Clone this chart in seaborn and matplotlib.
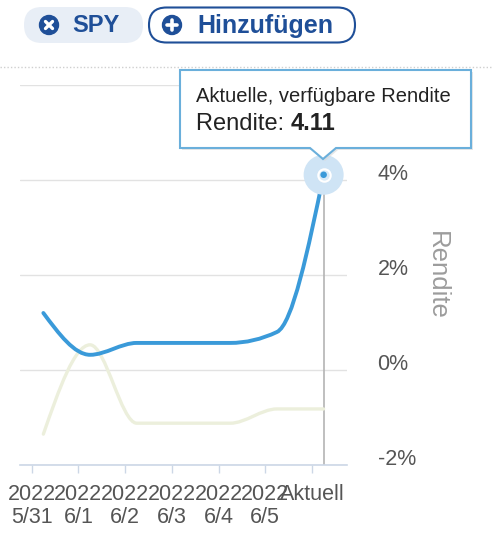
import numpy as np
import pandas as pd
import matplotlib
matplotlib.use("Agg")
import matplotlib.pyplot as plt
import seaborn as sns
from matplotlib.path import Path
from matplotlib.patches import PathPatch, FancyBboxPatch, Circle, Polygon

# Values
x_labels = ["2022\n5/31", "2022\n6/1", "2022\n6/2", "2022\n6/3", "2022\n6/4", "2022\n6/5", "Aktuell"]
spy_values = [1.2, 0.32, 0.57, 0.57, 0.57, 0.8, 4.11]
other_values = [-1.35, 0.53, -1.12, -1.12, -1.12, -0.82, -0.82]
y_ticks = [-2, 0, 2, 4, 6]
y_tick_labels = ["-2%", "0%", "2%", "4%", ""]  # top label sits under the tooltip
tooltip_title = "Aktuelle, verfügbare Rendite"
tooltip_label = "Rendite: "
chip_labels = ["SPY", "Hinzufügen"]

BLUE = "#3a9ad9"
BEIGE = "#ecefdc"
DARK_BLUE = "#1f4f98"
TEXT = "#555555"

sns.set_style("white")
plt.rcParams["font.family"] = ["Liberation Sans", "DejaVu Sans"]


def monotone_path(xs, ys):
    # monotone cubic (like d3 curveMonotoneX), as bezier segments
    xs = np.asarray(xs, float)
    ys = np.asarray(ys, float)
    n = len(xs)
    h = np.diff(xs)
    s = np.diff(ys) / h
    t = np.zeros(n)
    for i in range(1, n - 1):
        p = (s[i - 1] * h[i] + s[i] * h[i - 1]) / (h[i - 1] + h[i])
        t[i] = (np.sign(s[i - 1]) + np.sign(s[i])) * min(abs(s[i - 1]), abs(s[i]), 0.5 * abs(p))
    t[0] = (3 * s[0] - t[1]) / 2
    t[-1] = (3 * s[-1] - t[-2]) / 2
    verts = [(xs[0], ys[0])]
    codes = [Path.MOVETO]
    for i in range(n - 1):
        d = h[i] / 3
        verts += [(xs[i] + d, ys[i] + d * t[i]),
                  (xs[i + 1] - d, ys[i + 1] - d * t[i + 1]),
                  (xs[i + 1], ys[i + 1])]
        codes += [Path.CURVE4] * 3
    return Path(verts, codes)


W, H = 492, 538
fig = plt.figure(figsize=(W / 100, H / 100), dpi=100)
ax = fig.add_axes([20 / W, 1 - 465 / H, 327 / W, 380 / H])

idx = np.arange(len(x_labels))
df = pd.DataFrame({"pos": idx, "spy": spy_values, "other": other_values})

ax.add_patch(PathPatch(monotone_path(df["pos"], df["other"]), fill=False,
                       edgecolor=BEIGE, lw=2.4, capstyle="round", zorder=2))
ax.add_patch(PathPatch(monotone_path(df["pos"], df["spy"]), fill=False,
                       edgecolor=BLUE, lw=2.8, capstyle="round", zorder=3))

ax.axvline(idx[-1], color="#b4b4b4", lw=1.2, zorder=1.5)

# highlighted last point
last = df.iloc[[-1]]
sns.scatterplot(data=last, x="pos", y="spy", s=830, color="#cfe4f5", edgecolor="none",
                ax=ax, zorder=4, legend=False)
sns.scatterplot(data=last, x="pos", y="spy", s=80, color="#d8eaf7", edgecolor="white",
                linewidth=1.5, ax=ax, zorder=5, legend=False)
sns.scatterplot(data=last, x="pos", y="spy", s=22, color=BLUE, edgecolor="none",
                ax=ax, zorder=6, legend=False)

ax.set_xlim(-0.5, len(x_labels) - 0.5)
ax.set_ylim(y_ticks[0], y_ticks[-1])
ax.set_xticks(idx - 0.25)
ax.set_xticklabels(x_labels, linespacing=1.1)
ax.set_yticks(y_ticks)
ax.set_yticklabels(y_tick_labels)
ax.yaxis.tick_right()
ax.grid(axis="y", color="#e2e2e2", lw=1)
ax.grid(axis="x", visible=False)
for side in ["top", "left", "right"]:
    ax.spines[side].set_visible(False)
ax.spines["bottom"].set_color("#ccd7e6")
ax.spines["bottom"].set_linewidth(1.2)
ax.tick_params(axis="x", length=6, width=1, color="#ccd7e6", labelsize=15.5,
               labelcolor=TEXT, pad=8, bottom=True)
ax.tick_params(axis="y", length=0, pad=22, labelsize=15.5, labelcolor=TEXT)
for lbl in ax.get_yticklabels():
    lbl.set_va("baseline")
ax.set_xlabel("")
ax.set_ylabel("Rendite", rotation=270, color="#9c9c9c", fontsize=18.5, va="center")
ax.yaxis.set_label_position("right")
ax.yaxis.set_label_coords((449 - 20) / 327, 0.5)

# overlay in pixel coordinates for the UI chrome
ov = fig.add_axes([0, 0, 1, 1], zorder=10)
ov.set_xlim(0, W)
ov.set_ylim(H, 0)
ov.axis("off")
ov.patch.set_alpha(0)

ov.plot([0, W], [67, 67], color="#cfcfcf", lw=1, ls=(0, (1, 1.5)))

ov.add_patch(FancyBboxPatch((24, 7), 119, 36, boxstyle="round,pad=0,rounding_size=18",
                            facecolor="#e8eef6", edgecolor="none"))
ov.add_patch(Circle((49, 25), 9.5, color=DARK_BLUE))
ov.plot([45.5, 52.5], [21.5, 28.5], color="white", lw=2.4, solid_capstyle="round")
ov.plot([45.5, 52.5], [28.5, 21.5], color="white", lw=2.4, solid_capstyle="round")
ov.text(72, 25.5, chip_labels[0], fontsize=17, fontweight="bold", color=DARK_BLUE,
        va="center", ha="left")

ov.add_patch(FancyBboxPatch((149, 7.5), 206, 35, boxstyle="round,pad=0,rounding_size=17.5",
                            facecolor="white", edgecolor=DARK_BLUE, lw=1.5))
ov.add_patch(Circle((172, 25), 9.5, color=DARK_BLUE))
ov.plot([167, 177], [25, 25], color="white", lw=2.6)
ov.plot([172, 172], [20, 30], color="white", lw=2.6)
ov.text(197, 25.5, chip_labels[1], fontsize=18, fontweight="bold", color=DARK_BLUE,
        va="center", ha="left")

# tooltip
tip = [(180, 70), (471, 70), (471, 148), (336, 148), (323, 159), (310, 148), (180, 148)]
ov.add_patch(Polygon([(x + 2, y + 2) for x, y in tip], closed=True, facecolor="#d8d8d8",
                     edgecolor="none", alpha=0.6))
ov.add_patch(Polygon(tip, closed=True, facecolor="white", edgecolor="#6aafdb", lw=1.5))
ov.text(196, 97, tooltip_title, fontsize=14.5, color="#222222", va="center", ha="left")
t1 = ov.text(196, 130, tooltip_label, fontsize=17, color="#222222", va="baseline", ha="left")
ov.annotate(f"{spy_values[-1]:.2f}", xy=(1, 0), xycoords=t1, fontsize=17, fontweight="bold",
            color="#222222", va="bottom", ha="left")

fig.savefig("out.png", dpi=100)
